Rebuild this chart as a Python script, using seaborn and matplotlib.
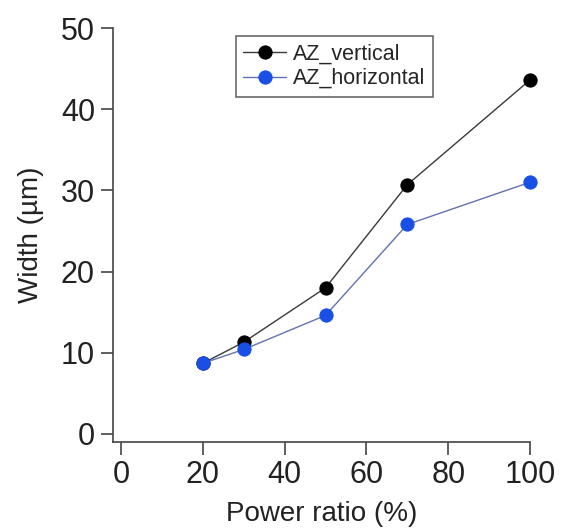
import pandas as pd
import numpy as np
import seaborn as sns
import matplotlib.pyplot as plt

power = [20, 30, 50, 70, 100]
az_vertical = [8.7, 11.3, 18.0, 30.7, 43.6]
az_horizontal = [8.7, 10.4, 14.6, 25.8, 31.0]

df = pd.DataFrame({
    'power': power * 2,
    'width': az_vertical + az_horizontal,
    'series': ['AZ_vertical'] * len(power) + ['AZ_horizontal'] * len(power),
})

sns.set_style('ticks')
plt.rcParams['font.family'] = ['Liberation Sans', 'DejaVu Sans']

fig = plt.figure(figsize=(5.62, 5.29), dpi=100)
ax = fig.add_axes([0.201, 0.1645, 0.742, 0.7825])

palette = {'AZ_vertical': '#000000', 'AZ_horizontal': '#1a4fe6'}
line_cols = {'AZ_vertical': '#3a3a3a', 'AZ_horizontal': '#6272b0'}

for name in ['AZ_vertical', 'AZ_horizontal']:
    sub = df[df['series'] == name]
    sns.lineplot(data=sub, x='power', y='width', ax=ax, color=line_cols[name],
                 linewidth=1.0, marker='o', markersize=9.5, clip_on=False,
                 markerfacecolor=palette[name], markeredgecolor=palette[name],
                 label=name)

ax.set_xlim(-2, 100)
ax.set_ylim(-1, 50)
ax.set_xticks([0, 20, 40, 60, 80, 100])
ax.set_yticks([0, 10, 20, 30, 40, 50])
ax.tick_params(axis='both', labelsize=22, length=9, width=1.2, colors='#444444',
               labelcolor='#222222', pad=4)
ax.set_xlabel('Power ratio (%)', fontsize=20, color='#222222', labelpad=8)
ax.set_ylabel('Width (µm)', fontsize=20, color='#222222', labelpad=12)
for s in ['top', 'right']:
    ax.spines[s].set_visible(False)
for s in ['left', 'bottom']:
    ax.spines[s].set_linewidth(1.2)
    ax.spines[s].set_color('#444444')

leg = ax.legend(loc='upper left', bbox_to_anchor=(0.294, 0.98), fontsize=15.5,
                frameon=True, fancybox=False, edgecolor='#444444',
                handlelength=2.0, handletextpad=0.3, borderpad=0.35,
                labelspacing=0.15, borderaxespad=0)
leg.get_frame().set_linewidth(1.2)

fig.savefig('out.png', dpi=100)
